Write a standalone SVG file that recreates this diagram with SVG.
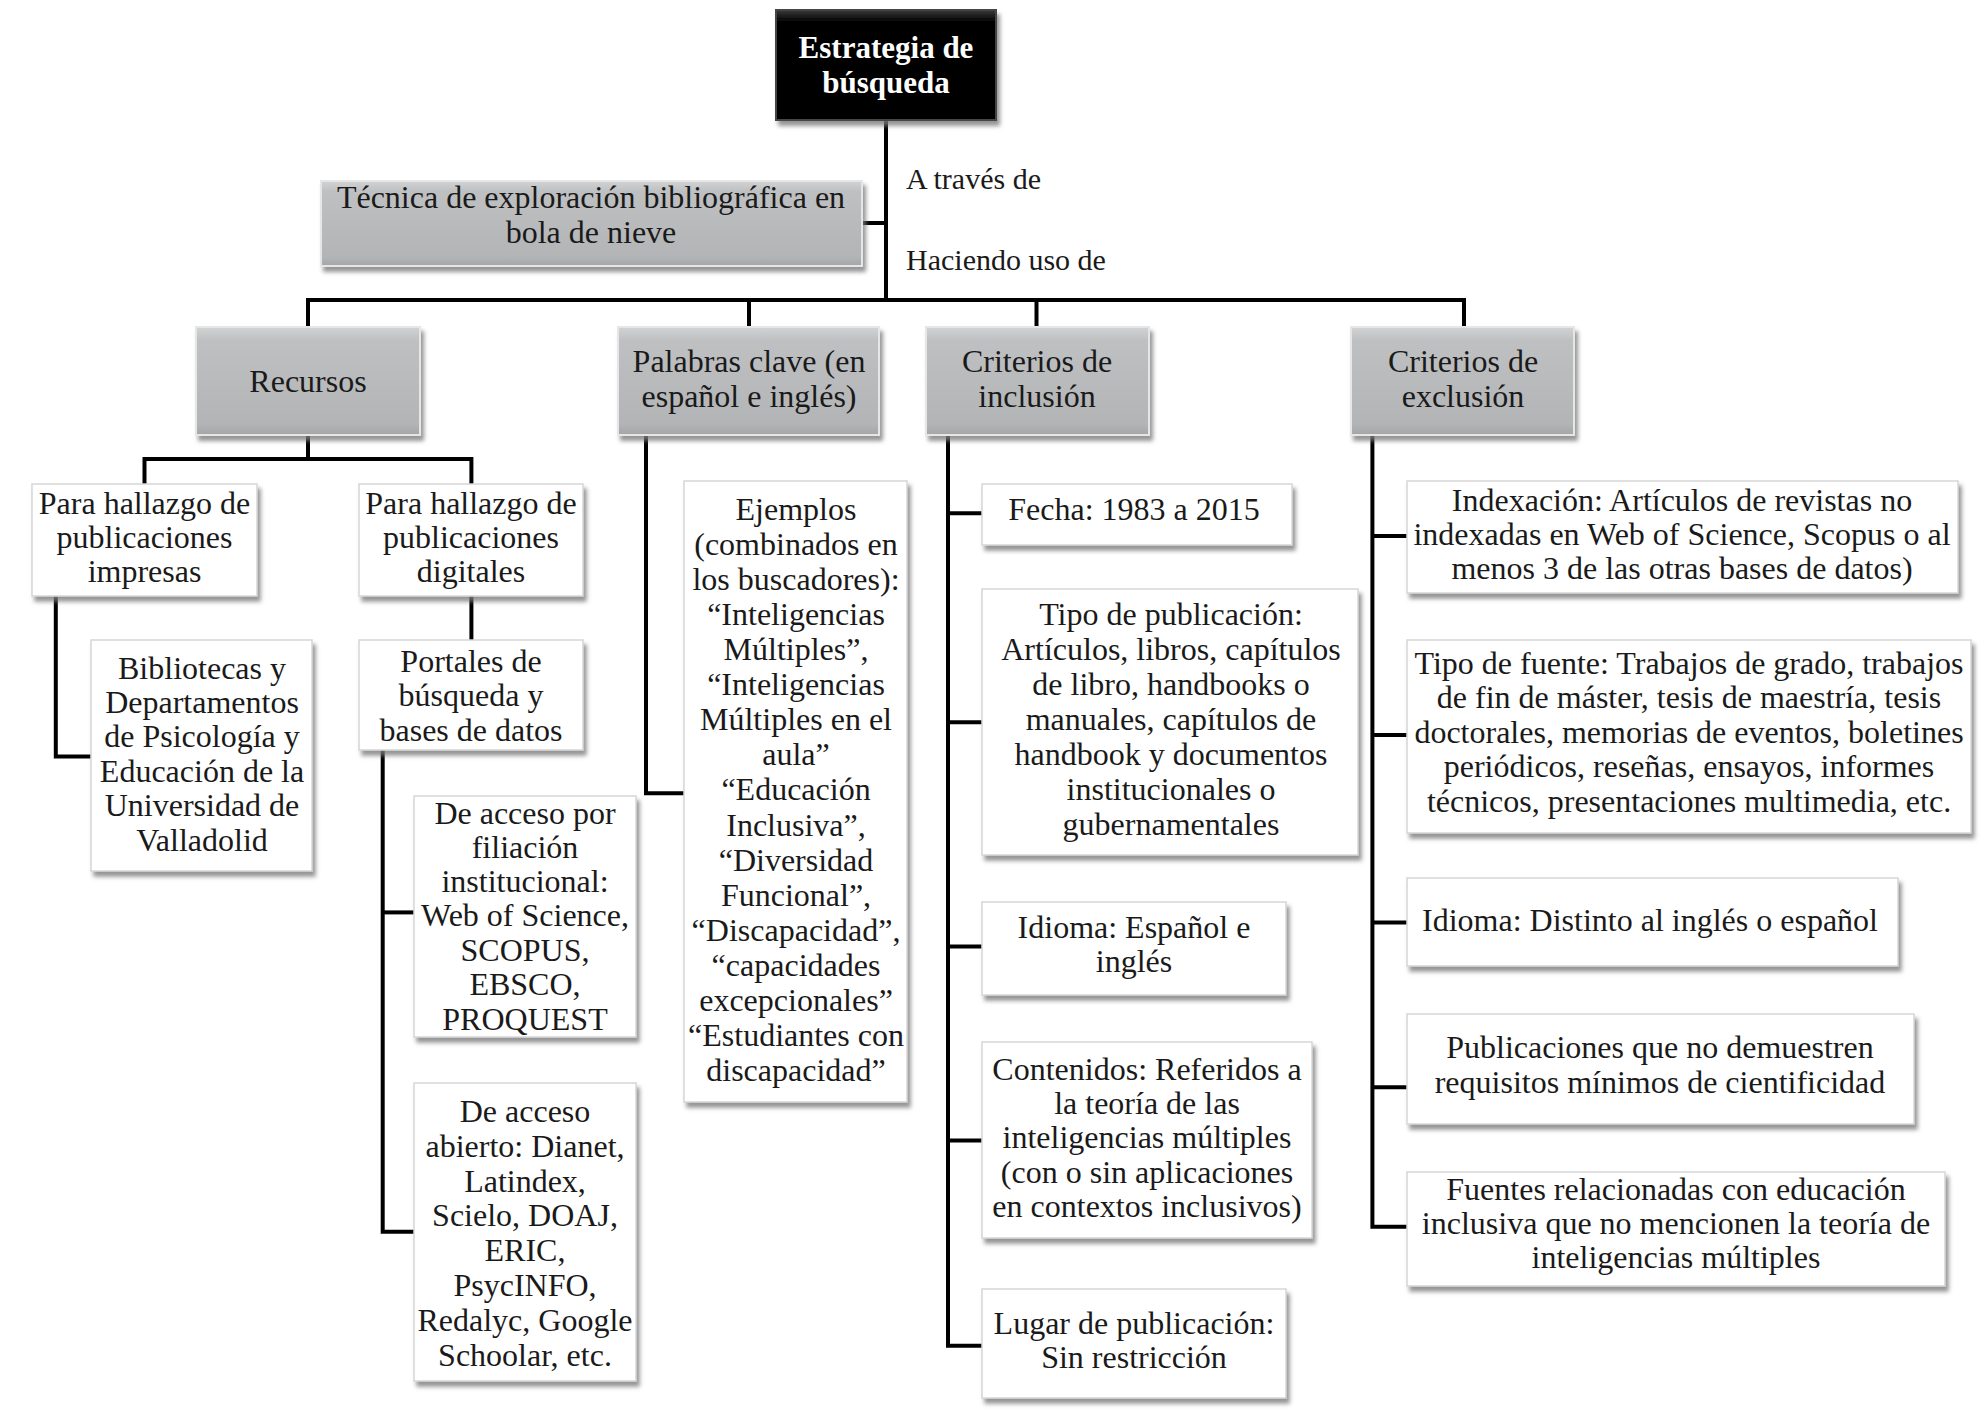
<svg xmlns="http://www.w3.org/2000/svg" width="1987" height="1417" viewBox="0 0 1987 1417">
<style>
.t{font-family:"Liberation Serif","Times New Roman",serif;font-size:32px;fill:#1a1a1a;text-anchor:middle}
.lbl{font-family:"Liberation Serif","Times New Roman",serif;font-size:30px;fill:#1a1a1a}
.tw{font-family:"Liberation Serif","Times New Roman",serif;font-size:31px;font-weight:bold;fill:#ffffff;text-anchor:middle}
.gray{fill:url(#gg);stroke:#e6e6e6;stroke-width:2;filter:url(#sh)}
.white{fill:#ffffff;stroke:#d6d6d6;stroke-width:1.5;filter:url(#sh)}
.black{fill:url(#bg);stroke:#444;stroke-width:2;filter:url(#sh)}
.conn{stroke:#000;stroke-width:4;fill:none}
</style>
<defs>
<linearGradient id="gg" x1="0" y1="0" x2="0" y2="1">
<stop offset="0" stop-color="#d2d3d5"/>
<stop offset="0.12" stop-color="#bfc0c2"/>
<stop offset="0.9" stop-color="#b3b4b6"/>
<stop offset="1" stop-color="#a4a5a7"/>
</linearGradient>
<linearGradient id="bg" x1="0" y1="0" x2="0" y2="1">
<stop offset="0" stop-color="#3a3a3a"/>
<stop offset="0.1" stop-color="#050505"/>
<stop offset="1" stop-color="#000000"/>
</linearGradient>
<filter id="sh" x="-10%" y="-10%" width="120%" height="125%">
<feDropShadow dx="3" dy="5" stdDeviation="2" flood-color="#7a7a7a" flood-opacity="0.8"/>
</filter>
</defs>
<rect width="1987" height="1417" fill="#ffffff"/>

<g id="connectors">
<path class="conn" d="M886 120 V300"/>
<path class="conn" d="M862 223 H886"/>
<path class="conn" d="M308 327 V300 H1464 V327"/>
<path class="conn" d="M749 300 V327"/>
<path class="conn" d="M1036.5 300 V327"/>
<path class="conn" d="M308 435 V459"/>
<path class="conn" d="M144.5 484 V459 H471.4 V484"/>
<path class="conn" d="M55.8 596 V756.5 H91"/>
<path class="conn" d="M471.4 596 V640"/>
<path class="conn" d="M382.7 750 V1231.7 H414"/>
<path class="conn" d="M382.7 912.4 H414"/>
<path class="conn" d="M646 435 V793.3 H684"/>
<path class="conn" d="M948 435 V1345.8 H982"/>
<path class="conn" d="M948 513.2 H982"/>
<path class="conn" d="M948 722.3 H982"/>
<path class="conn" d="M948 946.6 H982"/>
<path class="conn" d="M948 1140.5 H982"/>
<path class="conn" d="M1372.4 435 V1226.7 H1407"/>
<path class="conn" d="M1372.4 536 H1407"/>
<path class="conn" d="M1372.4 735 H1407"/>
<path class="conn" d="M1372.4 922.5 H1407"/>
<path class="conn" d="M1372.4 1087.3 H1407"/>
</g>

<g id="labels">
<text class="lbl" x="906" y="189">A través de</text>
<text class="lbl" x="906" y="270">Haciendo uso de</text>
</g>

<g id="n-estrategia">
<rect class="black" x="776" y="10" width="220" height="110"/>
<text class="tw" x="886" y="58">Estrategia de</text>
<text class="tw" x="886" y="93">búsqueda</text>
</g>

<g id="n-tecnica">
<rect class="gray" x="321" y="181" width="541" height="85"/>
<text class="t" x="591" y="208">Técnica de exploración bibliográfica en</text>
<text class="t" x="591" y="243">bola de nieve</text>
</g>

<g id="n-recursos">
<rect class="gray" x="196" y="327" width="224" height="108"/>
<text class="t" x="308" y="392">Recursos</text>
</g>

<g id="n-palabras">
<rect class="gray" x="618" y="327" width="261" height="108"/>
<text class="t" x="749" y="372">Palabras clave (en</text>
<text class="t" x="749" y="407">español e inglés)</text>
</g>

<g id="n-inclusion">
<rect class="gray" x="926" y="327" width="223" height="108"/>
<text class="t" x="1037" y="372">Criterios de</text>
<text class="t" x="1037" y="407">inclusión</text>
</g>

<g id="n-exclusion">
<rect class="gray" x="1351" y="327" width="223" height="108"/>
<text class="t" x="1463" y="372">Criterios de</text>
<text class="t" x="1463" y="407">exclusión</text>
</g>

<g id="n-impresas">
<rect class="white" x="32" y="484" width="225" height="112"/>
<text class="t" x="144.5" y="514">Para hallazgo de</text>
<text class="t" x="144.5" y="548">publicaciones</text>
<text class="t" x="144.5" y="582">impresas</text>
</g>

<g id="n-digitales">
<rect class="white" x="359" y="484" width="224" height="112"/>
<text class="t" x="471" y="514">Para hallazgo de</text>
<text class="t" x="471" y="548">publicaciones</text>
<text class="t" x="471" y="582">digitales</text>
</g>

<g id="n-bibliotecas">
<rect class="white" x="91" y="640" width="221" height="231"/>
<text class="t" x="202" y="679">Bibliotecas y</text>
<text class="t" x="202" y="713">Departamentos</text>
<text class="t" x="202" y="747">de Psicología y</text>
<text class="t" x="202" y="782">Educación de la</text>
<text class="t" x="202" y="816">Universidad de</text>
<text class="t" x="202" y="851">Valladolid</text>
</g>

<g id="n-portales">
<rect class="white" x="359" y="640" width="224" height="110"/>
<text class="t" x="471" y="672">Portales de</text>
<text class="t" x="471" y="706">búsqueda y</text>
<text class="t" x="471" y="741">bases de datos</text>
</g>

<g id="n-filiacion">
<rect class="white" x="414" y="796" width="222" height="241"/>
<text class="t" x="525" y="824">De acceso por</text>
<text class="t" x="525" y="858">filiación</text>
<text class="t" x="525" y="892">institucional:</text>
<text class="t" x="525" y="926">Web of Science,</text>
<text class="t" x="525" y="961">SCOPUS,</text>
<text class="t" x="525" y="995">EBSCO,</text>
<text class="t" x="525" y="1030">PROQUEST</text>
</g>

<g id="n-abierto">
<rect class="white" x="414" y="1083" width="222" height="298"/>
<text class="t" x="525" y="1122">De acceso</text>
<text class="t" x="525" y="1157">abierto: Dianet,</text>
<text class="t" x="525" y="1192">Latindex,</text>
<text class="t" x="525" y="1226">Scielo, DOAJ,</text>
<text class="t" x="525" y="1261">ERIC,</text>
<text class="t" x="525" y="1296">PsycINFO,</text>
<text class="t" x="525" y="1331">Redalyc, Google</text>
<text class="t" x="525" y="1366">Schoolar, etc.</text>
</g>

<g id="n-ejemplos">
<rect class="white" x="684" y="481" width="223" height="621"/>
<text class="t" x="796" y="520">Ejemplos</text>
<text class="t" x="796" y="555">(combinados en</text>
<text class="t" x="796" y="590">los buscadores):</text>
<text class="t" x="796" y="625">“Inteligencias</text>
<text class="t" x="796" y="660">Múltiples”,</text>
<text class="t" x="796" y="695">“Inteligencias</text>
<text class="t" x="796" y="730">Múltiples en el</text>
<text class="t" x="796" y="765">aula”</text>
<text class="t" x="796" y="800">“Educación</text>
<text class="t" x="796" y="836">Inclusiva”,</text>
<text class="t" x="796" y="871">“Diversidad</text>
<text class="t" x="796" y="906">Funcional”,</text>
<text class="t" x="796" y="941">“Discapacidad”,</text>
<text class="t" x="796" y="976">“capacidades</text>
<text class="t" x="796" y="1011">excepcionales”</text>
<text class="t" x="796" y="1046">“Estudiantes con</text>
<text class="t" x="796" y="1081">discapacidad”</text>
</g>

<g id="n-fecha">
<rect class="white" x="982" y="484" width="310" height="61"/>
<text class="t" x="1134" y="520">Fecha: 1983 a 2015</text>
</g>

<g id="n-tipo-publicacion">
<rect class="white" x="982" y="589" width="376" height="266"/>
<text class="t" x="1171" y="625">Tipo de publicación:</text>
<text class="t" x="1171" y="660">Artículos, libros, capítulos</text>
<text class="t" x="1171" y="695">de libro, handbooks o</text>
<text class="t" x="1171" y="730">manuales, capítulos de</text>
<text class="t" x="1171" y="765">handbook y documentos</text>
<text class="t" x="1171" y="800">institucionales o</text>
<text class="t" x="1171" y="835">gubernamentales</text>
</g>

<g id="n-idioma-inc">
<rect class="white" x="982" y="902" width="304" height="93"/>
<text class="t" x="1134" y="938">Idioma: Español e</text>
<text class="t" x="1134" y="972">inglés</text>
</g>

<g id="n-contenidos">
<rect class="white" x="982" y="1042" width="330" height="196"/>
<text class="t" x="1147" y="1080">Contenidos: Referidos a</text>
<text class="t" x="1147" y="1114">la teoría de las</text>
<text class="t" x="1147" y="1148">inteligencias múltiples</text>
<text class="t" x="1147" y="1183">(con o sin aplicaciones</text>
<text class="t" x="1147" y="1217">en contextos inclusivos)</text>
</g>

<g id="n-lugar">
<rect class="white" x="982" y="1289" width="304" height="109"/>
<text class="t" x="1134" y="1334">Lugar de publicación:</text>
<text class="t" x="1134" y="1368">Sin restricción</text>
</g>

<g id="n-indexacion">
<rect class="white" x="1407" y="481" width="551" height="112"/>
<text class="t" x="1682" y="511">Indexación: Artículos de revistas no</text>
<text class="t" x="1682" y="545">indexadas en Web of Science, Scopus o al</text>
<text class="t" x="1682" y="579">menos 3 de las otras bases de datos)</text>
</g>

<g id="n-tipo-fuente">
<rect class="white" x="1407" y="640" width="564" height="193"/>
<text class="t" x="1689" y="674">Tipo de fuente: Trabajos de grado, trabajos</text>
<text class="t" x="1689" y="708">de fin de máster, tesis de maestría, tesis</text>
<text class="t" x="1689" y="743">doctorales, memorias de eventos, boletines</text>
<text class="t" x="1689" y="777">periódicos, reseñas, ensayos, informes</text>
<text class="t" x="1689" y="812">técnicos, presentaciones multimedia, etc.</text>
</g>

<g id="n-idioma-exc">
<rect class="white" x="1407" y="878" width="491" height="88"/>
<text class="t" x="1650" y="931">Idioma: Distinto al inglés o español</text>
</g>

<g id="n-publicaciones">
<rect class="white" x="1407" y="1014" width="507" height="110"/>
<text class="t" x="1660" y="1058">Publicaciones que no demuestren</text>
<text class="t" x="1660" y="1093">requisitos mínimos de cientificidad</text>
</g>

<g id="n-fuentes">
<rect class="white" x="1407" y="1172" width="538" height="114"/>
<text class="t" x="1676" y="1200">Fuentes relacionadas con educación</text>
<text class="t" x="1676" y="1234">inclusiva que no mencionen la teoría de</text>
<text class="t" x="1676" y="1268">inteligencias múltiples</text>
</g>
</svg>
